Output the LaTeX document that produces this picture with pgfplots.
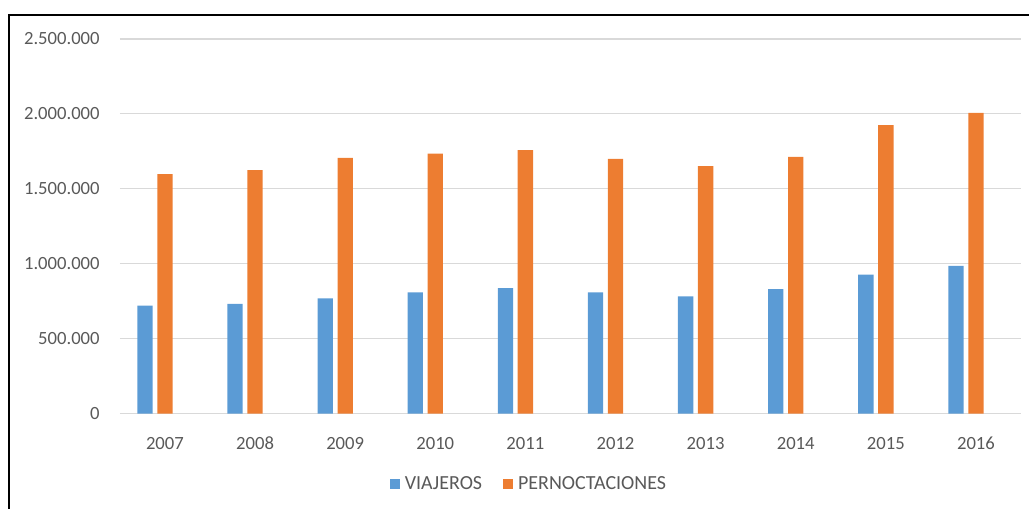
\documentclass[border=0pt]{standalone}
\usepackage{fontspec}
\setmainfont{Carlito}
\usepackage{pgfplots}
\usepackage{pgfplotstable}
\pgfplotsset{compat=1.18}
\definecolor{vblue}{HTML}{5B9BD5}
\definecolor{porange}{HTML}{ED7D31}
\definecolor{txtgray}{HTML}{595959}
\definecolor{gridgray}{HTML}{D9D9D9}

\pgfplotstableread{
x year viajeros pernoctaciones
0 2007 720000 1598000
1 2008 733000 1625000
2 2009 769000 1707000
3 2010 809000 1735000
4 2011 838000 1758000
5 2012 809000 1700000
6 2013 782000 1651000
7 2014 831000 1713000
8 2015 927000 1925000
9 2016 985000 2007000
}\datos

\begin{document}
\begin{tikzpicture}
% page area and the chart frame (left and top edges only are visible)
\path (-90pt,-71.25pt) rectangle (682.5pt,310.5pt);
\draw[line width=1.5pt] (-83.25pt,-71.25pt) -- (-83.25pt,299.25pt) -- (682.5pt,299.25pt);
\begin{axis}[
  at={(0,0)}, anchor=south west,
  scale only axis, width=676.5pt, height=281.25pt,
  ybar, bar width=11.5pt,
  xmin=-0.5, xmax=9.5, ymin=0, ymax=2500000,
  xtick={0,...,9},
  xticklabels={2007,2008,2009,2010,2011,2012,2013,2014,2015,2016},
  ytick={0,500000,...,2500000},
  scaled y ticks=false,
  /pgf/number format/.cd, fixed, 1000 sep={.}, assume math mode=true,
  /pgfplots/.cd,
  axis line style={draw=none},
  tick style={draw=none},
  ymajorgrids, grid style={gridgray, line width=0.9pt},
  tick label style={font=\fontsize{14}{17}\selectfont, text=txtgray, inner sep=0pt},
  yticklabel style={anchor=east, xshift=-15pt},
  xticklabel style={anchor=base, yshift=-22.5pt},
  legend style={at={(0.4545,-0.1867)}, anchor=center, draw=none,
    legend columns=2, font=\fontsize{15}{18}\selectfont, text=txtgray,
    /tikz/every odd column/.append style={column sep=1.5pt},
    /tikz/every even column/.append style={column sep=14pt}},
  legend image code/.code={\fill[#1] (0pt,-3.75pt) rectangle (7.5pt,3.75pt);},
  clip=false,
]
\addplot[fill=vblue, draw=none, bar shift=-15pt] table[x=x, y=viajeros] {\datos};
\addlegendentry{VIAJEROS}
\addplot[fill=porange, draw=none, bar shift=0pt] table[x=x, y=pernoctaciones] {\datos};
\addlegendentry{PERNOCTACIONES}
\end{axis}
\end{tikzpicture}
\end{document}
